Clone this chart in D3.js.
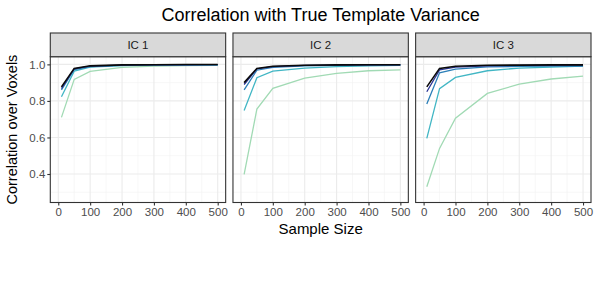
<!DOCTYPE html>
<html>
<head>
<meta charset="utf-8">
<script src="https://cdn.jsdelivr.net/npm/d3@7"></script>
<style>
  body { margin: 0; background: #fff; }
  text { font-family: "Liberation Sans", Arial, sans-serif; }
</style>
</head>
<body>
<svg id="chart" width="598" height="300"></svg>
<script>
// sample sizes on the x axis
const sampleSizes = [10, 50, 100, 200, 300, 400, 500];
const panels = ['IC 1', 'IC 2', 'IC 3'];
const seriesColors = ['#0a0a0a', '#2b3595', '#2c7fb8', '#41b6c4', '#a1dab4'];

// correlation values, one array per series per panel
const ic1 = [
  [0.877, 0.978, 0.992, 0.997, 0.998, 0.999, 0.999],
  [0.868, 0.975, 0.990, 0.996, 0.998, 0.998, 0.999],
  [0.860, 0.972, 0.988, 0.995, 0.997, 0.998, 0.998],
  [0.823, 0.963, 0.985, 0.993, 0.996, 0.997, 0.998],
  [0.710, 0.918, 0.962, 0.984, 0.990, 0.993, 0.995]
];
const ic2 = [
  [0.900, 0.978, 0.990, 0.995, 0.997, 0.998, 0.998],
  [0.890, 0.975, 0.988, 0.994, 0.996, 0.997, 0.998],
  [0.860, 0.968, 0.984, 0.992, 0.995, 0.996, 0.997],
  [0.748, 0.927, 0.963, 0.980, 0.988, 0.992, 0.994],
  [0.398, 0.755, 0.869, 0.925, 0.951, 0.965, 0.970]
];
const ic3 = [
  [0.877, 0.978, 0.990, 0.995, 0.996, 0.997, 0.997],
  [0.850, 0.970, 0.985, 0.992, 0.994, 0.995, 0.996],
  [0.783, 0.954, 0.974, 0.986, 0.989, 0.990, 0.991],
  [0.595, 0.867, 0.929, 0.965, 0.980, 0.985, 0.990],
  [0.330, 0.540, 0.705, 0.841, 0.892, 0.920, 0.936]
];
const panelValues = [ic1, ic2, ic3];

const xTicks = [0, 100, 200, 300, 400, 500];
const yTicks = [0.4, 0.6, 0.8, 1.0];

const svg = d3.select('#chart');
const plotLeft = 50.3, plotRight = 591, gap = 7.3;
const stripTop = 33, stripBottom = 56.7, panelBottom = 202.5;
const panelW = (plotRight - plotLeft - 2 * gap) / 3;

const y = d3.scaleLinear().domain([0.244, 1.042]).range([panelBottom, stripBottom]);

svg.append('text')
  .attr('x', (plotLeft + plotRight) / 2).attr('y', 21)
  .attr('text-anchor', 'middle')
  .attr('font-size', 18).attr('fill', '#000')
  .text('Correlation with True Template Variance');

panels.forEach((name, p) => {
  const x0 = plotLeft + p * (panelW + gap);
  const x = d3.scaleLinear().domain([-25, 525]).range([x0, x0 + panelW]);
  const g = svg.append('g');

  // grid: minor then major
  const xMinor = d3.range(50, 500, 100);
  const yMinor = [0.3, 0.5, 0.7, 0.9];
  g.selectAll('.xmin').data(xMinor).enter().append('line')
    .attr('x1', d => x(d)).attr('x2', d => x(d))
    .attr('y1', stripBottom).attr('y2', panelBottom)
    .attr('stroke', '#f2f2f2').attr('stroke-width', 0.6);
  g.selectAll('.ymin').data(yMinor).enter().append('line')
    .attr('x1', x0).attr('x2', x0 + panelW)
    .attr('y1', d => y(d)).attr('y2', d => y(d))
    .attr('stroke', '#f2f2f2').attr('stroke-width', 0.6);
  g.selectAll('.xmaj').data(xTicks).enter().append('line')
    .attr('x1', d => x(d)).attr('x2', d => x(d))
    .attr('y1', stripBottom).attr('y2', panelBottom)
    .attr('stroke', '#ebebeb').attr('stroke-width', 1.1);
  g.selectAll('.ymaj').data(yTicks).enter().append('line')
    .attr('x1', x0).attr('x2', x0 + panelW)
    .attr('y1', d => y(d)).attr('y2', d => y(d))
    .attr('stroke', '#ebebeb').attr('stroke-width', 1.1);

  // series lines, lightest drawn first so black sits on top
  const line = d3.line().x((d, i) => x(sampleSizes[i])).y(d => y(d));
  panelValues[p].slice().reverse().forEach((vals, k) => {
    const idx = panelValues[p].length - 1 - k;
    g.append('path').datum(vals)
      .attr('d', line)
      .attr('fill', 'none')
      .attr('stroke', seriesColors[idx])
      .attr('stroke-width', idx === 0 ? 1.6 : 1.3);
  });

  // panel border
  g.append('rect')
    .attr('x', x0).attr('y', stripBottom)
    .attr('width', panelW).attr('height', panelBottom - stripBottom)
    .attr('fill', 'none').attr('stroke', '#333').attr('stroke-width', 1.1);

  // strip
  g.append('rect')
    .attr('x', x0).attr('y', stripTop)
    .attr('width', panelW).attr('height', stripBottom - stripTop)
    .attr('fill', '#d9d9d9').attr('stroke', '#333').attr('stroke-width', 1.1);
  g.append('text')
    .attr('x', x0 + panelW / 2).attr('y', (stripTop + stripBottom) / 2 + 4)
    .attr('text-anchor', 'middle').attr('font-size', 11.5).attr('fill', '#1a1a1a')
    .text(name);

  // x axis
  const xa = g.append('g')
    .attr('transform', `translate(0,${panelBottom})`)
    .call(d3.axisBottom(x).tickValues(xTicks).tickSize(3).tickPadding(2));
  xa.select('.domain').remove();
  xa.selectAll('line').attr('stroke', '#333').attr('stroke-width', 1.1);
  xa.selectAll('text').attr('fill', '#4d4d4d').attr('font-size', 11.5)
    .attr('font-family', '"Liberation Sans", Arial, sans-serif');

  if (p === 0) {
    const ya = g.append('g')
      .attr('transform', `translate(${x0},0)`)
      .call(d3.axisLeft(y).tickValues(yTicks).tickFormat(d3.format('.1f')).tickSize(3).tickPadding(2));
    ya.select('.domain').remove();
    ya.selectAll('line').attr('stroke', '#333').attr('stroke-width', 1.1);
    ya.selectAll('text').attr('fill', '#4d4d4d').attr('font-size', 11.5)
      .attr('font-family', '"Liberation Sans", Arial, sans-serif');
  }
});

svg.append('text')
  .attr('x', (plotLeft + plotRight) / 2).attr('y', 234)
  .attr('text-anchor', 'middle').attr('font-size', 15).attr('fill', '#000')
  .text('Sample Size');

svg.append('text')
  .attr('transform', `translate(17,${(stripBottom + panelBottom) / 2}) rotate(-90)`)
  .attr('text-anchor', 'middle').attr('font-size', 14.5).attr('fill', '#000')
  .text('Correlation over Voxels');
</script>
</body>
</html>
